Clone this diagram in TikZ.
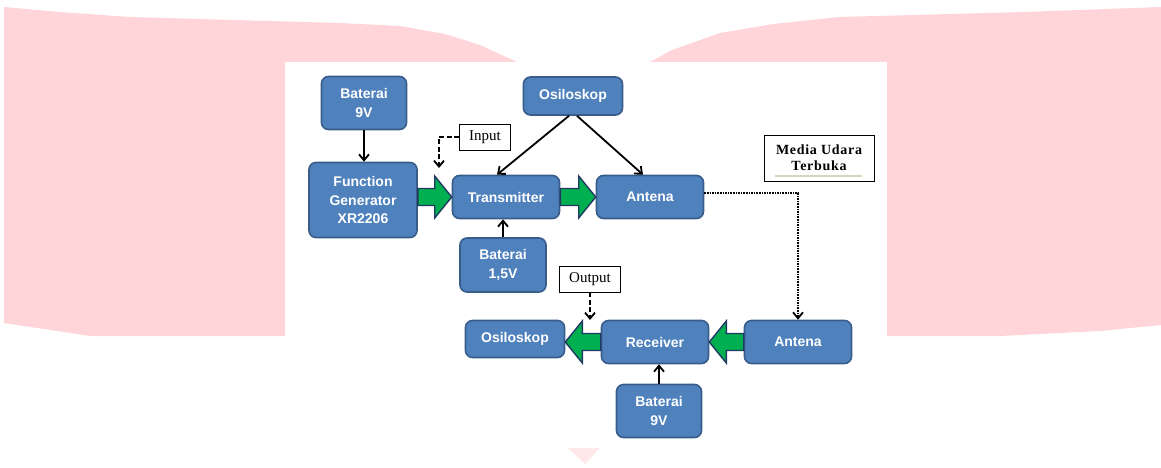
\documentclass[tikz,border=0pt]{standalone}
\usepackage{fontspec}
\setmainfont{Liberation Serif}
\setsansfont{Liberation Sans}
\usetikzlibrary{arrows.meta,calc}

\definecolor{latarpink}{RGB}{255,213,217}
\definecolor{isibiru}{RGB}{79,129,189}
\definecolor{garisbiru}{RGB}{56,93,138}
\definecolor{hijau}{RGB}{0,176,80}
\definecolor{garishijau}{RGB}{31,56,100}
\definecolor{garisbawah}{RGB}{214,214,190}

\tikzset{
    blok/.style={draw=garisbiru, fill=isibiru, line width=1.6pt, rounded corners=7pt,
        text=white, align=center, inner sep=0pt,
        font=\sffamily\bfseries\fontsize{14}{18.5}\selectfont},
    ket/.style={draw, fill=white, line width=0.9pt, inner sep=0pt, align=center,
        font=\fontsize{15}{17}\selectfont},
    panah/.style={-{Straight Barb[length=6pt,width=10pt]}, line width=1.8pt},
    putus/.style={panah, dash pattern=on 5pt off 2.5pt},
    titik/.style={panah, dash pattern=on 1.6pt off 1pt},
    panahblok/.style={fill=hijau, draw=garishijau, line width=1.4pt, line join=miter}
}

% green block arrow, from #1 to the tip at #2
\newcommand{\panahhijau}[2]{%
    \filldraw[panahblok] let \p1=(#1), \p2=(#2), \n1={ifthenelse(\x2>\x1,1,-1)} in
        ({\x1},{\y2+8.5pt}) -- ({\x2-\n1*17pt},{\y2+8.5pt}) -- ({\x2-\n1*17pt},{\y2+21pt})
        -- (\p2) -- ({\x2-\n1*17pt},{\y2-21pt}) -- ({\x2-\n1*17pt},{\y2-8.5pt})
        -- ({\x1},{\y2-8.5pt}) -- cycle;}

\begin{document}
\begin{tikzpicture}[x=1pt, y=-1pt]
        \useasboundingbox (0,0) rectangle (1161,467);
        % Background
        \fill[latarpink] (4,7) -- (60,12) -- (130,17) -- (340,23) -- (400,26) -- (445,34)
            -- (480,45) -- (517,62) -- (650,62) -- (672,50) -- (720,33) -- (773,24)
            -- (839,17) -- (1024,12) -- (1161,7) -- (1161,325) -- (1100,331) -- (1000,336)
            -- (90,336) -- (4,323) -- cycle;
        \fill[white] (285,62) rectangle (887,467);
        \fill[latarpink!55] (568,448) -- (600,448) -- (585,464) -- cycle;
        % Transmitter side
        \node[blok, minimum width=85, minimum height=53] (bat1) at (364,103) {Baterai\\9V};
        \node[blok, minimum width=108, minimum height=75] (fg) at (363,200)
            {Function\\Generator\\XR2206};
        \node[blok, minimum width=107, minimum height=43] (tx) at (506,197) {Transmitter};
        \node[blok, minimum width=86, minimum height=54] (bat2) at (503,265) {Baterai\\1,5V};
        \node[blok, minimum width=99, minimum height=38] (osk1) at (573,96) {Osiloskop};
        \node[blok, minimum width=107, minimum height=43] (ant1) at (650,197) {Antena};
        % Receiver side
        \node[blok, minimum width=99, minimum height=37] (osk2) at (515,339) {Osiloskop};
        \node[blok, minimum width=107, minimum height=43] (rx) at (655,342) {Receiver};
        \node[blok, minimum width=107, minimum height=43] (ant2) at (798,342) {Antena};
        \node[blok, minimum width=85, minimum height=53] (bat3) at (659,411) {Baterai\\9V};
        % Labels
        \node[ket, minimum width=51, minimum height=26] (inp) at (485,137) {Input};
        \node[ket, minimum width=61, minimum height=26] (out) at (590,279) {Output};
        \node[ket, minimum width=110, minimum height=46,
            font=\bfseries\fontsize{14}{16}\selectfont\addfontfeature{LetterSpace=5}]
            (media) at (819,158) {Media Udara\\Terbuka};
        \draw[garisbawah, line width=1.2pt] (775,176) -- (862,176);
        \coordinate (inarr) at (439,168);
        \coordinate (outarr) at (590,320);
        % Green arrows
        \panahhijau{fg.east |- tx.west}{tx.west}
        \panahhijau{tx.east}{ant1.west}
        \panahhijau{ant2.west}{rx.east}
        \panahhijau{rx.west}{osk2.east |- rx.west}
        % Black arrows
        \draw[panah] (bat1.south) -- (bat1.south |- fg.north);
        \draw[panah] (bat2.north) -- (bat2.north |- tx.south);
        \draw[panah] (bat3.north) -- (bat3.north |- rx.south);
        \draw[panah] ([xshift=-4]osk1.south) -- ([xshift=-9]tx.north);
        \draw[panah] ([xshift=4]osk1.south) -- ([xshift=-7]ant1.north);
        % Dashed and dotted lines
        \draw[putus] (inp.west) -| (inarr);
        \draw[putus] (out.south) -- (outarr);
        \draw[titik] ([yshift=4]ant1.east) -| (ant2.north);
\end{tikzpicture}
\end{document}
